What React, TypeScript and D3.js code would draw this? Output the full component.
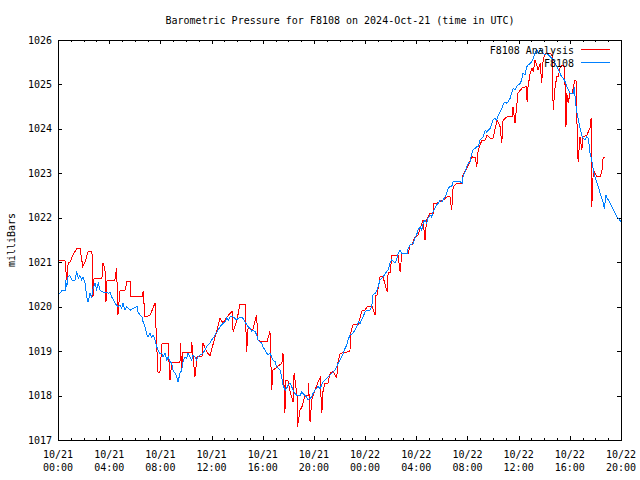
import * as d3 from "d3";

const title = "Barometric Pressure for F8108 on 2024-Oct-21 (time in UTC)";
const yLabel = "milliBars";
const seriesNames = ["F8108 Analysis", "F8108"];

// x axis: minutes after 2024-10-21 00:00 UTC
const xDomain = [0, 2640];
const xTickDays = ["10/21", "10/21", "10/21", "10/21", "10/21", "10/21", "10/22", "10/22", "10/22", "10/22", "10/22", "10/22"];
const xTickClock = ["00:00", "04:00", "08:00", "12:00", "16:00", "20:00", "00:00", "04:00", "08:00", "12:00", "16:00", "20:00"];
const yTicks = [1017, 1018, 1019, 1020, 1021, 1022, 1023, 1024, 1025, 1026];

const analysisMinutes = [
  0, 33, 41, 48, 56, 70, 89, 103, 116, 127, 141, 159, 163, 164, 169, 206, 211, 220, 225, 230,
  267, 275, 281, 291, 314, 323, 338, 341, 361, 394, 399, 408, 431, 455, 464, 469, 478, 488, 516, 525,
  534, 572, 574, 580, 586, 624, 627, 642, 652, 675, 680, 699, 713, 745, 760, 774, 792, 816, 821, 839,
  853, 877, 885, 891, 914, 931, 938, 956, 980, 994, 1002, 1008, 1050, 1055, 1064, 1069, 1078, 1088, 1102, 1107,
  1121, 1123, 1135, 1144, 1158, 1173, 1175, 1182, 1190, 1205, 1219, 1229, 1237, 1243, 1252, 1266, 1276, 1290, 1307, 1313,
  1323, 1369, 1372, 1377, 1383, 1407, 1426, 1440, 1449, 1473, 1487, 1491, 1496, 1510, 1524, 1543, 1548, 1557, 1566, 1595,
  1604, 1613, 1642, 1651, 1660, 1674, 1688, 1698, 1712, 1721, 1728, 1745, 1759, 1763, 1778, 1806, 1824, 1838, 1846, 1853,
  1871, 1895, 1899, 1918, 1942, 1956, 1964, 1970, 1988, 2003, 2012, 2026, 2040, 2045, 2059, 2066, 2073, 2081, 2087, 2106,
  2129, 2134, 2143, 2153, 2157, 2176, 2195, 2200, 2204, 2214, 2223, 2229, 2237, 2245, 2251, 2261, 2268, 2275, 2284, 2307,
  2317, 2322, 2331, 2339, 2346, 2354, 2364, 2373, 2378, 2382, 2386, 2392, 2401, 2411, 2417, 2425, 2433, 2434, 2439, 2448,
  2456, 2462, 2480, 2495, 2500, 2503, 2508, 2511, 2518, 2528, 2542, 2550, 2556, 2565,
];
const analysisValues = [
  1021.03, 1021.03, 1020.6, 1020.98, 1021.0, 1021.16, 1021.32, 1021.32, 1020.91, 1021.0, 1021.24, 1021.24, 1020.76, 1020.22, 1020.64, 1020.64, 1020.98, 1020.87, 1020.11, 1020.6,
  1020.6, 1020.87, 1019.81, 1020.37, 1020.37, 1020.56, 1020.56, 1020.22, 1020.22, 1020.22, 1020.35, 1019.77, 1019.8, 1020.08, 1019.0, 1018.53, 1018.53, 1019.18, 1019.18, 1018.35,
  1018.75, 1018.75, 1019.18, 1018.57, 1018.98, 1018.98, 1019.21, 1018.42, 1018.87, 1018.87, 1019.18, 1018.97, 1018.9, 1019.47, 1019.74, 1019.63, 1019.77, 1019.89, 1019.44, 1019.7,
  1020.04, 1020.04, 1018.99, 1019.51, 1019.48, 1019.81, 1019.25, 1019.21, 1019.21, 1019.44, 1018.12, 1018.57, 1018.73, 1018.95, 1017.6, 1018.35, 1018.35, 1018.1, 1017.86, 1018.5,
  1018.0, 1017.3, 1017.67, 1017.75, 1018.0, 1018.0, 1018.28, 1017.41, 1017.9, 1018.12, 1018.3, 1018.39, 1017.6, 1018.12, 1018.28, 1018.28, 1018.5, 1018.55, 1018.4, 1018.76,
  1018.95, 1018.99, 1019.4, 1019.49, 1019.59, 1019.59, 1019.92, 1019.92, 1020.0, 1020.0, 1019.81, 1020.26, 1020.26, 1020.67, 1020.67, 1020.34, 1020.76, 1020.76, 1021.16, 1021.16,
  1020.79, 1021.2, 1021.2, 1021.39, 1021.39, 1021.57, 1021.6, 1021.75, 1021.95, 1021.5, 1021.95, 1022.1, 1022.1, 1022.33, 1022.33, 1022.4, 1022.47, 1022.47, 1022.17, 1022.7,
  1022.78, 1022.78, 1022.96, 1023.12, 1023.37, 1023.35, 1023.15, 1023.52, 1023.75, 1023.75, 1023.86, 1023.79, 1023.79, 1023.9, 1024.2, 1024.13, 1024.05, 1023.68, 1024.2, 1024.27,
  1024.27, 1024.5, 1024.13, 1024.61, 1024.8, 1024.92, 1024.95, 1024.61, 1024.95, 1025.25, 1025.36, 1025.28, 1025.55, 1025.44, 1025.33, 1025.48, 1025.03, 1025.55, 1025.7, 1025.7,
  1025.66, 1024.43, 1024.95, 1025.17, 1025.17, 1025.37, 1025.44, 1025.4, 1024.95, 1024.05, 1024.8, 1024.58, 1024.8, 1024.8, 1024.95, 1025.1, 1025.06, 1023.75, 1023.26, 1023.82,
  1023.52, 1023.82, 1023.86, 1024.02, 1024.24, 1022.25, 1022.85, 1023.07, 1023.0, 1022.92, 1022.92, 1023.03, 1023.34, 1023.36,
];

const stationMinutes = [
  0, 9, 19, 33, 35, 41, 47, 56, 66, 80, 88, 95, 103, 111, 117, 127, 135, 141, 150, 158,
  164, 174, 181, 189, 197, 211, 230, 236, 244, 252, 267, 281, 291, 299, 305, 314, 322, 338, 352, 371,
  375, 385, 393, 399, 408, 416, 422, 431, 439, 446, 455, 463, 469, 478, 486, 492, 502, 510, 517, 525,
  533, 539, 549, 557, 563, 572, 580, 586, 596, 603, 610, 619, 627, 633, 643, 650, 657, 666, 680, 697,
  713, 721, 727, 736, 750, 760, 768, 783, 791, 799, 807, 821, 838, 846, 854, 868, 877, 885, 891, 901,
  908, 915, 924, 932, 938, 947, 955, 961, 971, 979, 985, 994, 1002, 1008, 1018, 1025, 1032, 1041, 1049, 1055,
  1065, 1072, 1079, 1088, 1096, 1102, 1111, 1121, 1135, 1143, 1149, 1158, 1166, 1172, 1182, 1190, 1196, 1205, 1213, 1219,
  1229, 1237, 1243, 1252, 1260, 1266, 1276, 1283, 1290, 1299, 1307, 1313, 1323, 1330, 1337, 1346, 1354, 1360, 1369, 1383,
  1401, 1408, 1416, 1424, 1430, 1440, 1448, 1463, 1471, 1477, 1487, 1495, 1501, 1510, 1518, 1524, 1541, 1549, 1557, 1565,
  1573, 1580, 1588, 1595, 1604, 1613, 1637, 1642, 1651, 1665, 1674, 1682, 1688, 1698, 1706, 1712, 1721, 1729, 1735, 1745,
  1752, 1759, 1776, 1784, 1792, 1800, 1806, 1815, 1823, 1829, 1838, 1846, 1853, 1862, 1870, 1886, 1895, 1899, 1909, 1917,
  1923, 1932, 1940, 1946, 1964, 1971, 1979, 1987, 1993, 2003, 2010, 2026, 2040, 2049, 2057, 2065, 2073, 2081, 2087, 2096,
  2104, 2110, 2120, 2127, 2134, 2143, 2151, 2157, 2167, 2174, 2180, 2190, 2198, 2205, 2213, 2221, 2229, 2237, 2245, 2251,
  2261, 2268, 2276, 2284, 2292, 2307, 2315, 2323, 2331, 2339, 2346, 2354, 2362, 2370, 2378, 2386, 2393, 2401, 2417, 2421,
  2425, 2432, 2440, 2448, 2456, 2463, 2471, 2479, 2487, 2495, 2503, 2510, 2518, 2526, 2534, 2542, 2550, 2557, 2562, 2569,
  2575, 2581, 2589, 2597, 2604, 2612, 2620, 2631, 2640,
];
const stationValues = [
  1020.3, 1020.3, 1020.37, 1020.37, 1020.6, 1020.45, 1020.67, 1020.7, 1020.6, 1020.6, 1020.79, 1020.64, 1020.7, 1020.6, 1020.67, 1020.53, 1020.22, 1020.11, 1020.3, 1020.22,
  1020.4, 1020.53, 1020.4, 1020.53, 1020.37, 1020.33, 1020.33, 1020.3, 1020.33, 1020.22, 1020.08, 1020.0, 1020.04, 1019.96, 1020.08, 1019.92, 1020.0, 1019.92, 1019.96, 1020.0,
  1019.88, 1019.81, 1019.78, 1019.66, 1019.55, 1019.38, 1019.32, 1019.4, 1019.32, 1019.36, 1019.25, 1019.1, 1019.02, 1018.95, 1018.95, 1018.87, 1018.95, 1018.8, 1018.87, 1018.77,
  1018.73, 1018.57, 1018.5, 1018.42, 1018.31, 1018.5, 1018.57, 1018.76, 1018.87, 1018.84, 1018.95, 1018.87, 1018.8, 1018.91, 1018.87, 1018.8, 1018.87, 1018.91, 1018.95, 1019.1,
  1019.18, 1019.25, 1019.29, 1019.36, 1019.47, 1019.55, 1019.59, 1019.66, 1019.74, 1019.7, 1019.77, 1019.77, 1019.7, 1019.74, 1019.77, 1019.74, 1019.66, 1019.59, 1019.55, 1019.51,
  1019.44, 1019.47, 1019.44, 1019.36, 1019.25, 1019.21, 1019.18, 1019.1, 1019.02, 1018.95, 1018.91, 1018.95, 1018.87, 1018.8, 1018.76, 1018.65, 1018.62, 1018.57, 1018.42, 1018.24,
  1018.12, 1018.16, 1018.24, 1018.28, 1018.2, 1018.12, 1018.05, 1018.0, 1018.0, 1018.08, 1018.05, 1018.0, 1017.97, 1017.9, 1017.94, 1017.97, 1018.05, 1018.12, 1018.16, 1018.2,
  1018.16, 1018.24, 1018.31, 1018.35, 1018.39, 1018.42, 1018.46, 1018.5, 1018.53, 1018.57, 1018.65, 1018.72, 1018.8, 1018.87, 1018.95, 1019.06, 1019.14, 1019.25, 1019.36, 1019.4,
  1019.55, 1019.66, 1019.62, 1019.7, 1019.77, 1019.88, 1019.92, 1019.92, 1020.0, 1020.26, 1020.3, 1020.37, 1020.45, 1020.6, 1020.64, 1020.67, 1020.79, 1020.83, 1020.98, 1021.05,
  1021.02, 1020.98, 1021.05, 1021.2, 1021.27, 1021.2, 1021.2, 1021.31, 1021.39, 1021.42, 1021.54, 1021.62, 1021.72, 1021.8, 1021.72, 1021.88, 1021.95, 1021.88, 1021.99, 1022.06,
  1022.02, 1022.14, 1022.29, 1022.33, 1022.4, 1022.36, 1022.4, 1022.47, 1022.55, 1022.66, 1022.7, 1022.7, 1022.81, 1022.81, 1022.81, 1022.81, 1022.78, 1022.92, 1023.04, 1023.15,
  1023.22, 1023.26, 1023.45, 1023.52, 1023.6, 1023.6, 1023.75, 1023.79, 1023.82, 1023.97, 1023.93, 1024.01, 1024.2, 1024.24, 1024.2, 1024.31, 1024.39, 1024.46, 1024.54, 1024.61,
  1024.58, 1024.61, 1024.69, 1024.8, 1024.91, 1024.88, 1024.95, 1024.99, 1025.02, 1025.1, 1025.25, 1025.21, 1025.4, 1025.44, 1025.47, 1025.51, 1025.59, 1025.7, 1025.78, 1025.7,
  1025.78, 1025.74, 1025.7, 1025.66, 1025.7, 1025.63, 1025.59, 1025.55, 1025.47, 1025.4, 1025.33, 1025.25, 1025.17, 1025.14, 1025.06, 1024.95, 1024.88, 1024.8, 1024.8, 1024.95,
  1024.69, 1024.39, 1024.2, 1024.01, 1023.86, 1023.79, 1023.75, 1023.82, 1023.79, 1023.45, 1023.3, 1023.07, 1022.92, 1022.81, 1022.7, 1022.55, 1022.44, 1022.33, 1022.21, 1022.51,
  1022.44, 1022.4, 1022.33, 1022.25, 1022.18, 1022.1, 1022.02, 1021.97, 1021.9,
];

const RED = "#ff0000";
const BLUE = "#0080ff";

export default function App() {
  const width = 640;
  const height = 480;
  const left = 58;
  const right = 621;
  const top = 40;
  const bottom = 440;

  const x = d3.scaleLinear().domain(xDomain).range([left, right]);
  const y = d3.scaleLinear().domain([yTicks[0], yTicks[yTicks.length - 1]]).range([bottom, top]);

  const line = d3
    .line<[number, number]>()
    .x((d) => x(d[0]))
    .y((d) => y(d[1]));

  const analysis = analysisMinutes.map((m, i) => [m, analysisValues[i]] as [number, number]);
  const station = stationMinutes.map((m, i) => [m, stationValues[i]] as [number, number]);

  const majorTicks = d3.range(xDomain[0], xDomain[1] + 1, 240);
  const minorTicks = d3.range(xDomain[0], xDomain[1] + 1, 60).filter((m) => m % 240 !== 0);

  const px = (v: number) => Math.round(v) + 0.5;

  return (
    <svg
      width={width}
      height={height}
      style={{ position: "absolute", left: 0, top: 0, background: "#fff" }}
      fontFamily="DejaVu Sans Mono, monospace"
      fontSize={10}
    >
      <rect x={0} y={0} width={width} height={height} fill="#fff" />

      {/* title */}
      <text x={340} y={20} textAnchor="middle" dominantBaseline="central" fill="#000">
        {title}
      </text>

      {/* y label */}
      <text
        transform={`translate(11,240) rotate(-90)`}
        textAnchor="middle"
        dominantBaseline="central"
        fill="#000"
      >
        {yLabel}
      </text>

      <g stroke="#000" strokeWidth={1} shapeRendering="crispEdges">
        {yTicks.map((t) => (
          <g key={"y" + t}>
            <line x1={left} x2={left + 4} y1={px(y(t))} y2={px(y(t))} />
            <line x1={right - 4} x2={right} y1={px(y(t))} y2={px(y(t))} />
          </g>
        ))}
        {majorTicks.map((t) => (
          <g key={"xM" + t}>
            <line x1={px(x(t))} x2={px(x(t))} y1={bottom} y2={bottom - 4} />
            <line x1={px(x(t))} x2={px(x(t))} y1={top} y2={top + 4} />
          </g>
        ))}
        {minorTicks.map((t) => (
          <g key={"xm" + t}>
            <line x1={px(x(t))} x2={px(x(t))} y1={bottom} y2={bottom - 2} />
            <line x1={px(x(t))} x2={px(x(t))} y1={top} y2={top + 2} />
          </g>
        ))}
      </g>

      {/* y tick labels */}
      {yTicks.map((t) => (
        <text key={"yl" + t} x={52} y={y(t)} textAnchor="end" dominantBaseline="central" fill="#000">
          {t}
        </text>
      ))}

      {/* x tick labels */}
      {majorTicks.map((t, i) => (
        <g key={"xl" + t}>
          <text x={x(t)} y={454} textAnchor="middle" dominantBaseline="central" fill="#000">
            {xTickDays[i]}
          </text>
          <text x={x(t)} y={467} textAnchor="middle" dominantBaseline="central" fill="#000">
            {xTickClock[i]}
          </text>
        </g>
      ))}

      {/* data */}
      <path d={line(analysis) ?? ""} fill="none" stroke={RED} strokeWidth={1} shapeRendering="crispEdges" />
      <path d={line(station) ?? ""} fill="none" stroke={BLUE} strokeWidth={1} shapeRendering="crispEdges" />

      {/* legend */}
      <text x={574} y={50} textAnchor="end" dominantBaseline="central" fill="#000">
        {seriesNames[0]}
      </text>
      <line x1={581} x2={610} y1={49.5} y2={49.5} stroke={RED} shapeRendering="crispEdges" />
      <text x={574} y={63} textAnchor="end" dominantBaseline="central" fill="#000">
        {seriesNames[1]}
      </text>
      <line x1={581} x2={610} y1={62.5} y2={62.5} stroke={BLUE} shapeRendering="crispEdges" />

      {/* frame */}
      <rect
        x={left + 0.5}
        y={top + 0.5}
        width={right - left}
        height={bottom - top}
        fill="none"
        stroke="#000"
        shapeRendering="crispEdges"
      />
    </svg>
  );
}
